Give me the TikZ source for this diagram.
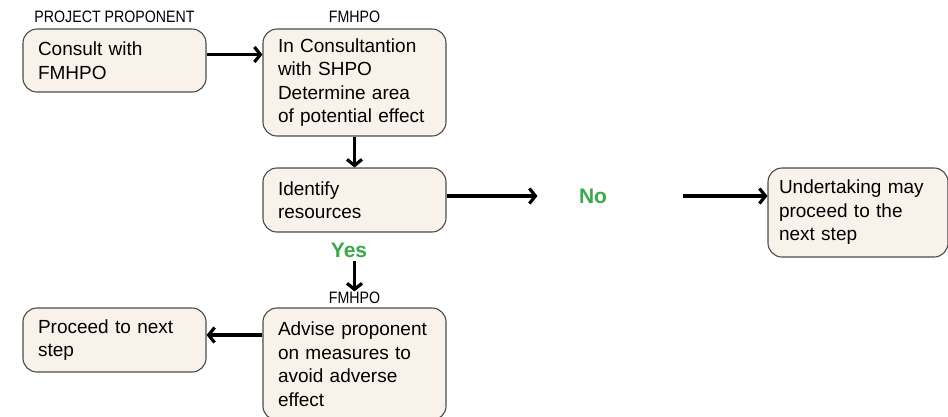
\documentclass[tikz,border=0pt]{standalone}
\usepackage{fontspec}
\setmainfont{Liberation Sans}
\newfontfamily\hdrfont[FakeStretch=0.86]{Liberation Sans}
\usepackage{tikz}
\usetikzlibrary{arrows.meta}
\usetikzlibrary{positioning}
\usepackage{xcolor}
\definecolor{boxfill}{RGB}{249,242,234}
\definecolor{boxline}{RGB}{75,75,75}
\definecolor{answergreen}{RGB}{57,170,73}

\begin{document}
\begin{tikzpicture}[x=1pt,y=-1pt]
  % Define styles for boxes, labels and arrows
  \tikzset{
    stepbox/.style={
      draw=boxline,
      fill=boxfill,
      line width=1.1pt,
      rounded corners=14pt,
      align=left,
      text width=153pt,
      inner xsep=15pt,
      inner ysep=0pt,
      font=\fontsize{19}{23.5}\selectfont
    },
    header/.style={
      font=\hdrfont\fontsize{16.5}{18}\selectfont,
      inner sep=0pt
    },
    answer/.style={
      text=answergreen,
      font=\bfseries\fontsize{21}{24}\selectfont
    },
    flow/.style={
      draw=black,
      line width=3.2pt,
      -{Straight Barb[length=6pt, width=15pt]}
    }
  }
  \useasboundingbox (0,0) rectangle (948,416);

  % Boxes of the flow
  \node[stepbox, minimum height=63pt] (consult) at (114.5,60.5) {Consult with\\FMHPO};
  \node[stepbox, minimum height=107pt] (determine) at (354.5,82.5) {In Consultantion\\with SHPO\\Determine area\\of potential effect};
  \node[stepbox, minimum height=64pt] (ident) at (354.5,200) {Identify\\resources};
  \node[stepbox, minimum height=89pt, text width=158pt, inner xsep=11pt] (undertake) at (858,212.5) {Undertaking may\\proceed to the\\next step};
  \node[stepbox, minimum height=112pt] (advise) at (354.5,364) {Advise proponent\\on measures to\\avoid adverse\\effect};
  \node[stepbox, minimum height=64pt] (proceed) at (114.5,340) {Proceed to next\\step};

  % Headers over the boxes
  \node[header, above=6pt of consult] (hdrA) {PROJECT PROPONENT};
  \node[header, above=6pt of determine] (hdrB) {FMHPO};
  \node[header, above=4pt of advise] (hdrC) {FMHPO};

  % Answers
  \node[answer] (no) at (593,196) {No};
  \node[answer] (yes) at (349,250) {Yes};

  % Connect boxes
  \draw[flow] ([yshift=6pt]consult.east) -- ([yshift=6pt]consult.east -| determine.west);
  \draw[flow] (determine.south) -- (ident.north);
  \draw[flow, shorten >=38pt] (ident.east |- no.west) -- (no.west);
  \draw[flow, shorten <=72pt] (no.east) -- (undertake.west |- no.east);
  \draw[flow] (hdrC.north |- yes.south) -- (hdrC.north);
  \draw[flow] ([yshift=5pt]proceed.east -| advise.west) -- ([yshift=5pt]proceed.east);
\end{tikzpicture}
\end{document}
